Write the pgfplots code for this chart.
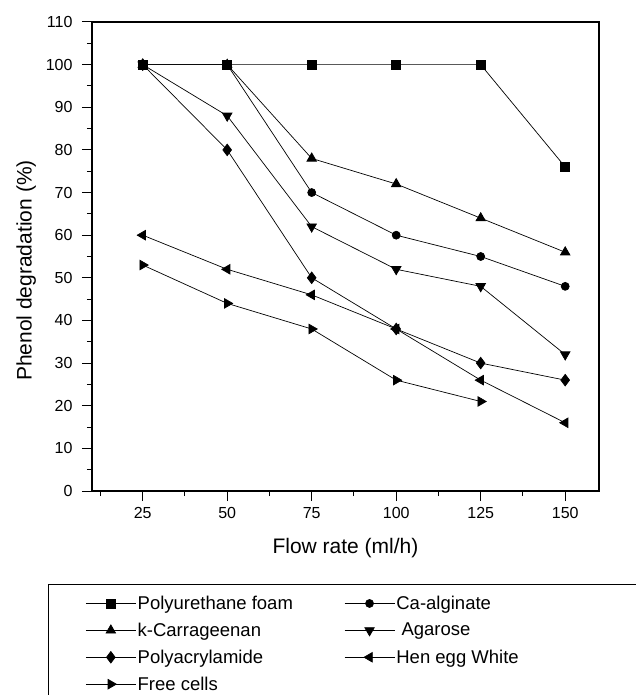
\documentclass[border=0pt]{standalone}
\usepackage{fontspec}
\setmainfont{Liberation Sans}
\usepackage{pgfplots}
\pgfplotsset{compat=1.18}
\newcommand{\tickfont}{\fontsize{16}{18}\selectfont}
\begin{document}
\begin{tikzpicture}
\begin{axis}[
    name=ax,
    scale only axis,
    width=507pt, height=469pt,
    xmin=10, xmax=160,
    ymin=0, ymax=110,
    xtick={25,50,75,100,125,150},
    minor xtick={12.5,37.5,62.5,87.5,112.5,137.5},
    ytick={0,10,...,110},
    minor ytick={5,15,...,105},
    xtick pos=left, ytick pos=left,
    tick align=outside,
    major tick length=10pt, minor tick length=5pt,
    axis line style={line width=1.1pt},
    tick style={line width=1pt, black},
    xticklabel={\tickfont\pgfmathprintnumber[assume math mode=true]{\tick}},
    yticklabel={\tickfont\pgfmathprintnumber[assume math mode=true]{\tick}},
    xticklabel style={yshift=-3pt},
    yticklabel style={xshift=-6pt},
    xlabel={Flow rate (ml/h)},
    ylabel={Phenol degradation (\%)},
    label style={font=\fontsize{21}{24}\selectfont},
    xlabel style={at={(axis description cs:0.5,-0.1215)}, anchor=center},
    ylabel style={at={(axis description cs:-0.130,0.47)}, anchor=center},
    every axis plot/.append style={black, line width=0.7pt, mark options={solid, fill=black}},
    legend columns=2,
    legend cell align=left,
    legend image code/.code={
        \draw[mark repeat=2, mark phase=2, #1, line width=0.7pt]
            plot coordinates {(0pt,0pt) (25pt,0pt) (50pt,0pt)};
    },
    legend style={
        at={(axis description cs:-0.0868,-0.1983)}, anchor=north west,
        draw=black, line width=1pt,
        inner xsep=37pt, inner ysep=10pt,
        row sep=9pt,
        nodes={inner sep=1.5pt},
        font=\fontsize{18.5}{22}\selectfont,
    },
]

\addplot[mark=square*, mark size=4.5pt] coordinates {
    (25,100) (50,100) (75,100) (100,100) (125,100) (150,76)
};
\addlegendentry{\makebox[205pt][l]{Polyurethane foam}}

\addplot[mark=*, mark size=4pt] coordinates {
    (25,100) (50,100) (75,70) (100,60) (125,55) (150,48)
};
\addlegendentry{\makebox[207pt][l]{Ca-alginate}}

\addplot[mark=triangle*, mark size=5.5pt] coordinates {
    (25,100) (50,100) (75,78) (100,72) (125,64) (150,56)
};
\addlegendentry{\makebox[205pt][l]{k-Carrageenan}}

\addplot[mark=triangle*, mark size=5.5pt, mark options={rotate=180}] coordinates {
    (25,100) (50,88) (75,62) (100,52) (125,48) (150,32)
};
\addlegendentry{\makebox[207pt][l]{\ Agarose}}

\addplot[mark=diamond*, mark size=5.8pt] coordinates {
    (25,100) (50,80) (75,50) (100,38) (125,30) (150,26)
};
\addlegendentry{\makebox[205pt][l]{Polyacrylamide}}

\addplot[mark=triangle*, mark size=5.5pt, mark options={rotate=90}] coordinates {
    (25,60) (50,52) (75,46) (100,38) (125,26) (150,16)
};
\addlegendentry{\makebox[207pt][l]{Hen egg White}}

\addplot[mark=triangle*, mark size=5.5pt, mark options={rotate=-90}] coordinates {
    (25,53) (50,44) (75,38) (100,26) (125,21)
};
\addlegendentry{\makebox[205pt][l]{Free cells}}

\end{axis}
\pgfresetboundingbox
\useasboundingbox ([shift={(-92pt,-204pt)}]ax.south west) rectangle ([shift={(36pt,22pt)}]ax.north east);
\end{tikzpicture}
\end{document}
